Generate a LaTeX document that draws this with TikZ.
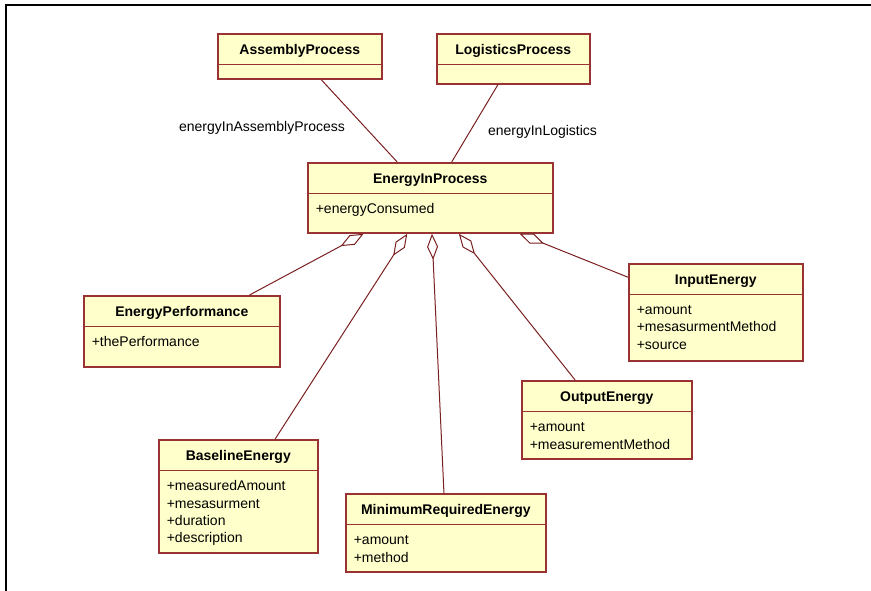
\documentclass[tikz,border=0pt]{standalone}
\usepackage{fontspec}
\setmainfont{Liberation Sans}
\usetikzlibrary{shapes.multipart,arrows.meta}
\definecolor{clsfill}{RGB}{255,255,204}
\definecolor{clsline}{RGB}{153,51,51}
\definecolor{assoc}{RGB}{122,32,32}
\newcommand{\hd}[1]{\rule[-9.5pt]{0pt}{29pt}\makebox[\linewidth][c]{\textbf{#1}}}
\newcommand{\topstrut}{\rule{0pt}{19.5pt}}
\newcommand{\botstrut}[1]{\rule[-#1pt]{0pt}{#1pt}}
\begin{document}
\begin{tikzpicture}[x=1pt,y=-1pt,
    cls/.style={rectangle split,rectangle split parts=2,draw=clsline,line width=1.6pt,
        fill=clsfill,inner xsep=8pt,inner ysep=0pt,anchor=north west,align=left,
        font=\fontsize{14}{17.3}\selectfont},
    lbl/.style={inner sep=0pt,font=\fontsize{14}{17}\selectfont},
    link/.style={draw=assoc,line width=1pt},
    agg/.style={link,-{Diamond[open,length=26pt,width=11pt]}}]
\useasboundingbox (0,0) rectangle (871,591);
\draw[line width=2pt](871,5.5)--(5.5,5.5)--(5.5,591);
\node[cls,text width=148](ap) at (217,33){\hd{AssemblyProcess}\nodepart{two}\rule{0pt}{13pt}};
\node[cls,text width=137](lp) at (436,33){\hd{LogisticsProcess}\nodepart{two}\rule{0pt}{18pt}};
\node[cls,text width=229](eip) at (307,162){\hd{EnergyInProcess}\nodepart{two}\topstrut+energyConsumed\botstrut{18.5}};
\node[cls,text width=180](ep) at (83,295){\hd{EnergyPerformance}\nodepart{two}\topstrut+thePerformance\botstrut{19.5}};
\node[cls,text width=143](be) at (158,439){\hd{BaselineEnergy}\nodepart{two}\topstrut+measuredAmount\\+mesasurment\\+duration\\+description\botstrut{9.6}};
\node[cls,text width=184](mre) at (345,493){\hd{MinimumRequiredEnergy}\nodepart{two}\topstrut+amount\\+method\botstrut{9.2}};
\node[cls,text width=158](ie) at (628,263){\hd{InputEnergy}\nodepart{two}\topstrut+amount\\+mesasurmentMethod\\+source\botstrut{10.9}};
\node[cls,text width=154](oe) at (521,380){\hd{OutputEnergy}\nodepart{two}\topstrut+amount\\+measurementMethod\botstrut{9.2}};
\node[lbl](lap) at (262,128){energyInAssemblyProcess};
\node[lbl](llp) at (542.5,132){energyInLogistics};
\draw[link](ap)--(eip);
\draw[link](lp)--(eip);
\foreach \c in {ep,be,mre,oe,ie}
{
    \draw[agg](\c)--(eip);
}
\end{tikzpicture}
\end{document}
